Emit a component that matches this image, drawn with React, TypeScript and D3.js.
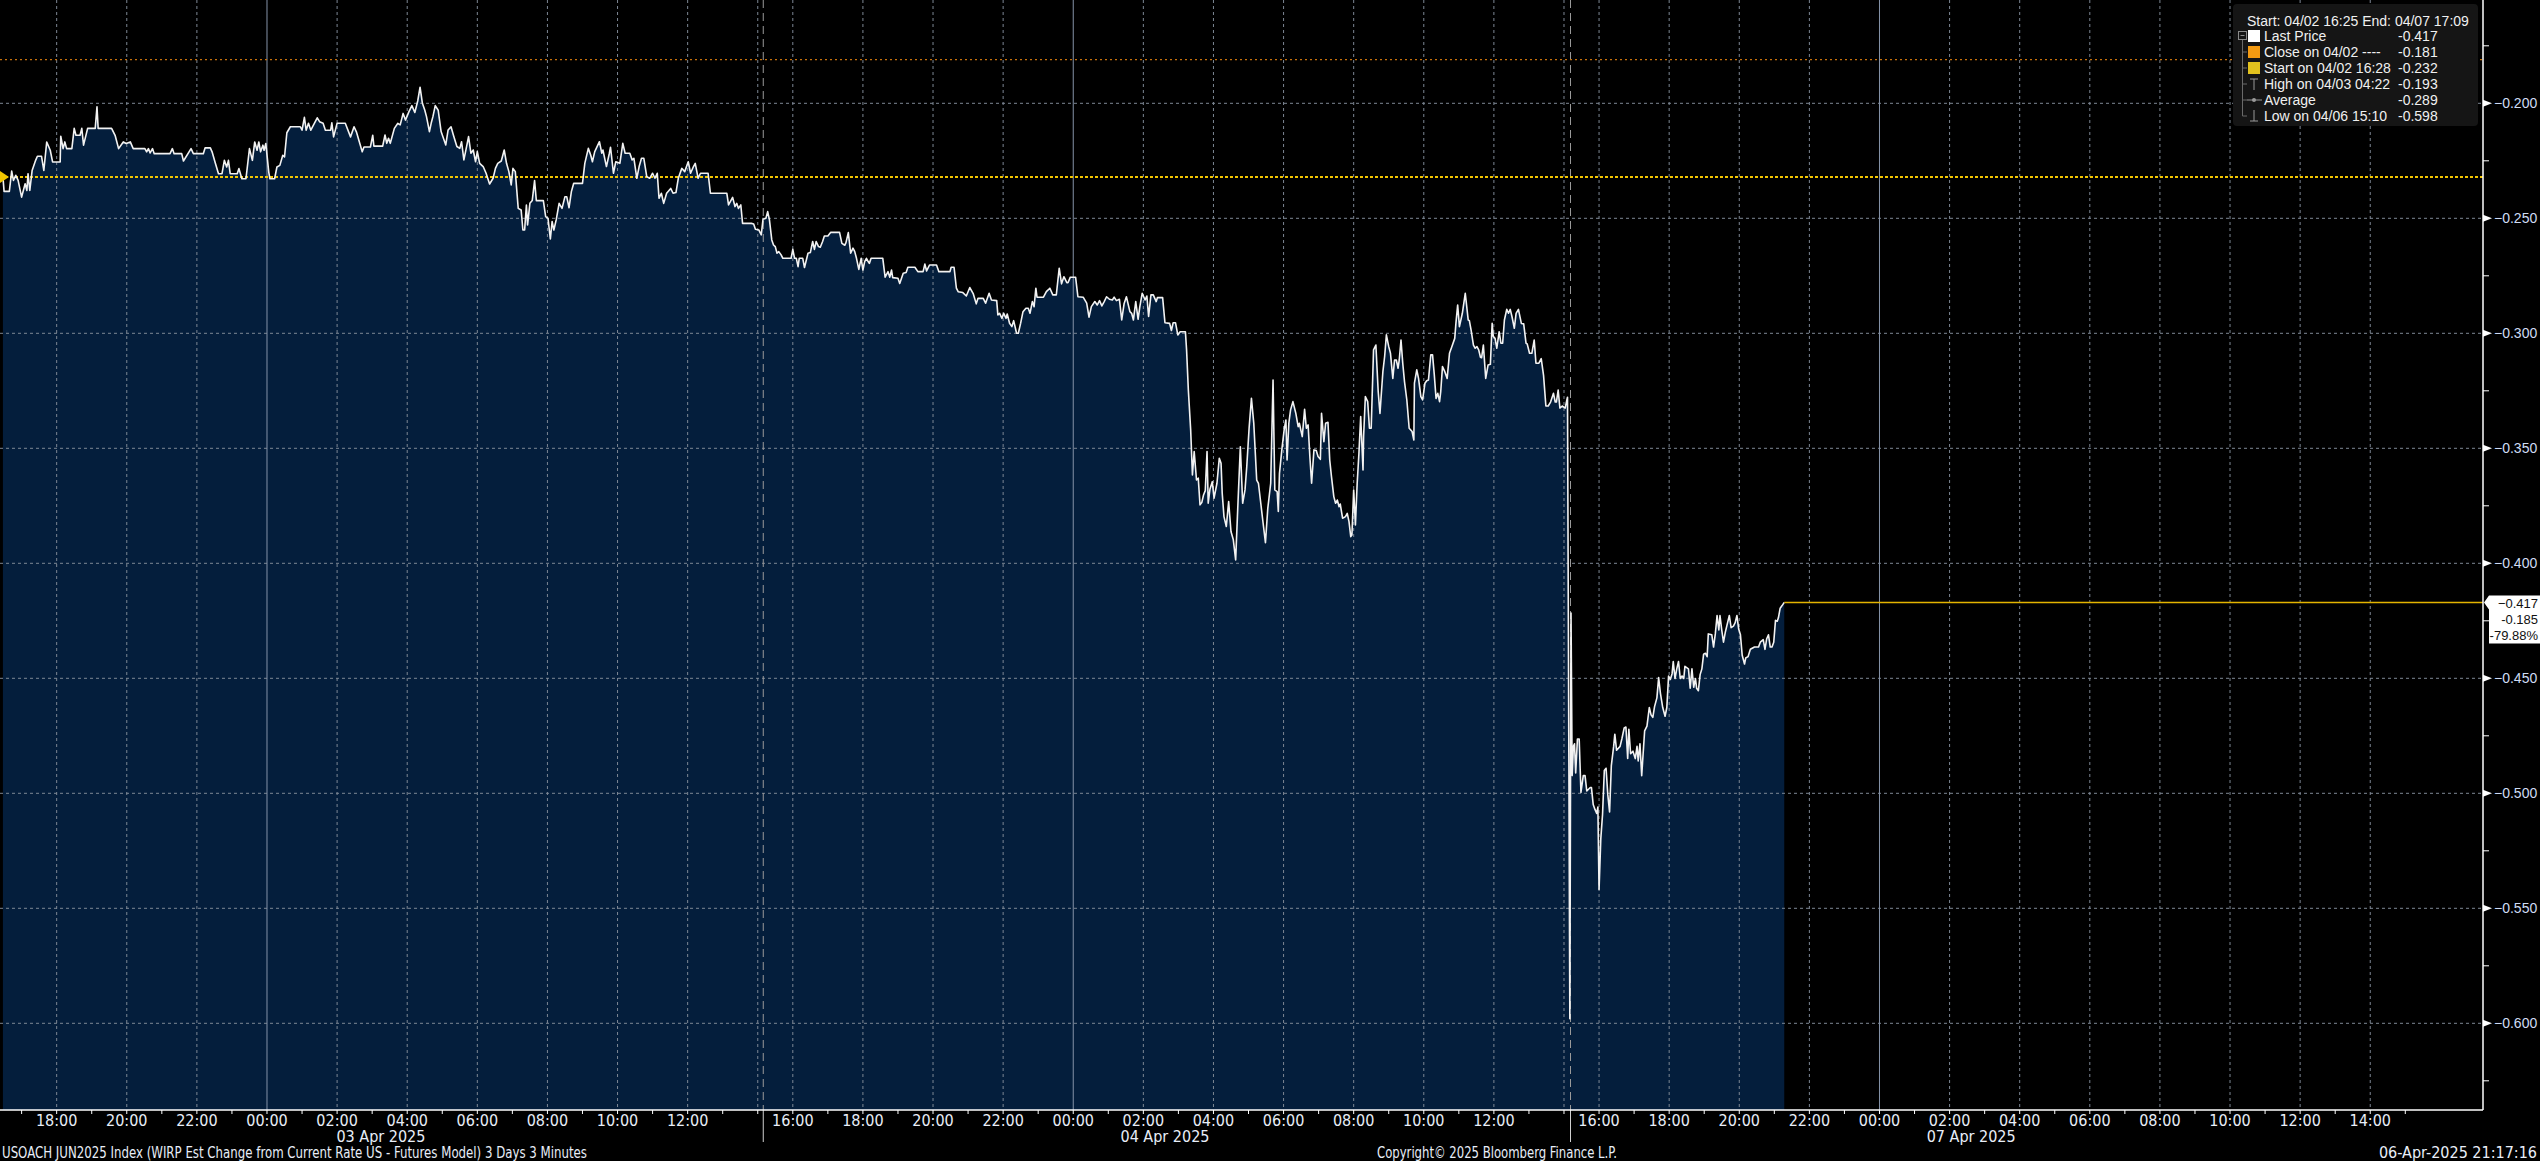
import * as d3 from 'd3';

type Pt = [string, number];

// 3-minute closes, grouped by calendar day / session
const apr02: Pt[] = [
  ['16:28', -0.232], ['16:30', -0.2383], ['16:39', -0.2383], ['16:43', -0.2295], ['16:46', -0.2335], ['16:50', -0.2313],
  ['16:54', -0.2335], ['17:00', -0.2408], ['17:06', -0.235], ['17:09', -0.2379], ['17:11', -0.2306], ['17:14', -0.2379],
  ['17:18', -0.2292], ['17:24', -0.2248], ['17:27', -0.223], ['17:34', -0.223], ['17:38', -0.2292], ['17:43', -0.2168],
  ['17:49', -0.2204], ['17:53', -0.2255], ['18:06', -0.2255], ['18:07', -0.2143], ['18:11', -0.2197], ['18:14', -0.2168],
  ['18:17', -0.2197], ['18:26', -0.2197], ['18:30', -0.2109], ['18:33', -0.2139], ['18:40', -0.2139], ['18:43', -0.2109],
  ['18:46', -0.2182], ['18:53', -0.2109], ['19:06', -0.2109], ['19:09', -0.2015], ['19:11', -0.2109], ['19:34', -0.2109],
  ['19:40', -0.2139], ['19:46', -0.2197], ['19:54', -0.2168], ['19:59', -0.2175], ['20:06', -0.2168], ['20:11', -0.2197],
  ['20:31', -0.2197], ['20:34', -0.2211], ['20:37', -0.2197], ['20:40', -0.2216], ['20:44', -0.2197], ['20:47', -0.2219],
  ['21:14', -0.2219], ['21:18', -0.2197], ['21:21', -0.2219], ['21:34', -0.2219], ['21:37', -0.2251], ['21:50', -0.2197],
  ['21:54', -0.2219], ['22:11', -0.2219], ['22:14', -0.2194], ['22:23', -0.2194], ['22:26', -0.2211], ['22:31', -0.2255],
  ['22:37', -0.2306], ['22:43', -0.2306], ['22:47', -0.2248], ['22:51', -0.2277], ['22:54', -0.2248], ['22:57', -0.2306],
  ['23:09', -0.2306], ['23:12', -0.2284], ['23:17', -0.2328], ['23:24', -0.2328], ['23:30', -0.2197], ['23:35', -0.2248],
  ['23:39', -0.2168], ['23:43', -0.2204], ['23:46', -0.2168], ['23:49', -0.2211], ['23:53', -0.2182], ['23:55', -0.2204],
  ['23:58', -0.2175],
];

const apr03am: Pt[] = [
  ['00:03', -0.2299], ['00:05', -0.2328], ['00:13', -0.2328], ['00:17', -0.2277], ['00:22', -0.227], ['00:27', -0.2226],
  ['00:30', -0.2233], ['00:34', -0.2128], ['00:40', -0.2102], ['00:57', -0.2102], ['01:00', -0.2117], ['01:04', -0.2061],
  ['01:07', -0.2117], ['01:11', -0.2087], ['01:15', -0.2117], ['01:26', -0.2063], ['01:30', -0.208], ['01:36', -0.2087],
  ['01:40', -0.2117], ['01:49', -0.2117], ['01:51', -0.2085], ['01:54', -0.2146], ['02:00', -0.2087], ['02:14', -0.2087],
  ['02:23', -0.2146], ['02:29', -0.2102], ['02:33', -0.2124], ['02:43', -0.2211], ['02:46', -0.219], ['02:57', -0.219],
  ['03:01', -0.2139], ['03:03', -0.2186], ['03:18', -0.2186], ['03:22', -0.2138], ['03:25', -0.2174], ['03:28', -0.2152],
  ['03:31', -0.2174], ['03:38', -0.2109], ['03:44', -0.2087], ['03:48', -0.2094], ['03:53', -0.2044], ['03:57', -0.2073],
  ['04:03', -0.2036], ['04:08', -0.201], ['04:13', -0.204], ['04:18', -0.199], ['04:22', -0.193], ['04:26', -0.2],
  ['04:30', -0.2029], ['04:33', -0.2058], ['04:38', -0.2123], ['04:41', -0.2087], ['04:44', -0.2058], ['04:48', -0.201],
  ['04:53', -0.203], ['04:58', -0.2123], ['05:06', -0.2181], ['05:10', -0.2116], ['05:15', -0.2102], ['05:19', -0.2138],
  ['05:25', -0.2188], ['05:30', -0.2196], ['05:33', -0.2167], ['05:37', -0.2246], ['05:41', -0.2196], ['05:45', -0.2145],
  ['05:49', -0.2217], ['05:53', -0.2203], ['05:57', -0.2254], ['06:00', -0.221], ['06:04', -0.2261], ['06:10', -0.2275],
  ['06:15', -0.2304], ['06:21', -0.2351], ['06:27', -0.2326], ['06:31', -0.2283], ['06:35', -0.2261], ['06:41', -0.2251],
  ['06:46', -0.2203], ['06:50', -0.2261], ['06:54', -0.2297], ['06:58', -0.2355], ['07:01', -0.2283], ['07:05', -0.2297],
  ['07:10', -0.2457], ['07:15', -0.2464], ['07:18', -0.2551], ['07:21', -0.2551], ['07:24', -0.2442], ['07:26', -0.2529],
  ['07:30', -0.2435], ['07:34', -0.2423], ['07:38', -0.2336], ['07:41', -0.2423], ['07:53', -0.2423], ['07:57', -0.2493],
  ['08:01', -0.25], ['08:05', -0.259], ['08:08', -0.2514], ['08:11', -0.2551], ['08:15', -0.2507], ['08:20', -0.2435],
  ['08:25', -0.2457], ['08:30', -0.2406], ['08:33', -0.2406], ['08:37', -0.2454], ['08:41', -0.2384], ['08:45', -0.2348],
  ['09:00', -0.2348], ['09:04', -0.2261], ['09:10', -0.2196], ['09:14', -0.2225], ['09:17', -0.2254], ['09:21', -0.221],
  ['09:29', -0.2167], ['09:33', -0.2217], ['09:35', -0.2203], ['09:41', -0.2275], ['09:46', -0.2217], ['09:48', -0.2191],
  ['09:53', -0.2304], ['09:57', -0.2254], ['10:04', -0.2261], ['10:09', -0.2174], ['10:13', -0.2217], ['10:21', -0.2217],
  ['10:25', -0.2246], ['10:28', -0.2239], ['10:33', -0.2326], ['10:37', -0.2275], ['10:41', -0.2239], ['10:45', -0.2239],
  ['10:50', -0.2319], ['10:55', -0.2326], ['11:00', -0.2304], ['11:04', -0.2326], ['11:08', -0.2304], ['11:11', -0.2413],
  ['11:15', -0.2391], ['11:19', -0.2435], ['11:24', -0.2391], ['11:31', -0.237], ['11:35', -0.2391], ['11:40', -0.2388],
  ['11:44', -0.2326], ['11:50', -0.2283], ['11:55', -0.2297], ['12:01', -0.2254], ['12:05', -0.2304], ['12:10', -0.2275],
  ['12:13', -0.2261], ['12:18', -0.2326], ['12:22', -0.2304], ['12:35', -0.2304], ['12:39', -0.2391], ['13:07', -0.2391],
  ['13:10', -0.2442], ['13:17', -0.2409], ['13:21', -0.2449], ['13:24', -0.2435], ['13:27', -0.2457], ['13:31', -0.2442],
  ['13:34', -0.2522], ['13:49', -0.2522], ['13:53', -0.2525], ['13:56', -0.2548], ['14:02', -0.2551], ['14:06', -0.2572],
];

const apr03pm: Pt[] = [
  ['15:09', -0.2504], ['15:14', -0.25], ['15:17', -0.2471], ['15:20', -0.2507], ['15:24', -0.2594], ['15:27', -0.2616],
  ['15:30', -0.2623], ['15:33', -0.2652], ['15:36', -0.2645], ['15:40', -0.2659], ['15:43', -0.2674], ['15:57', -0.2674],
  ['16:00', -0.2635], ['16:03', -0.2674], ['16:06', -0.2674], ['16:09', -0.271], ['16:11', -0.2674], ['16:17', -0.2674],
  ['16:20', -0.2714], ['16:26', -0.2652], ['16:30', -0.2649], ['16:34', -0.2601], ['16:37', -0.2635], ['16:40', -0.2601],
  ['16:44', -0.2623], ['16:47', -0.2626], ['16:51', -0.2601], ['16:54', -0.2577], ['17:00', -0.2577], ['17:05', -0.2561],
  ['17:20', -0.2561], ['17:24', -0.2609], ['17:29', -0.2617], ['17:31', -0.2606], ['17:35', -0.2562], ['17:39', -0.2652],
  ['17:43', -0.263], ['17:46', -0.2645], ['17:49', -0.2674], ['17:53', -0.2722], ['17:57', -0.2674], ['18:00', -0.2725],
  ['18:03', -0.2688], ['18:06', -0.2674], ['18:09', -0.2688], ['18:11', -0.2696], ['18:14', -0.2674], ['18:34', -0.2674],
  ['18:38', -0.2756], ['18:43', -0.2732], ['18:46', -0.2756], ['18:49', -0.2725], ['18:51', -0.2758], ['19:00', -0.2761],
  ['19:03', -0.2783], ['19:09', -0.2739], ['19:14', -0.2736], ['19:17', -0.2713], ['19:29', -0.2713], ['19:34', -0.2732],
  ['19:43', -0.2732], ['19:46', -0.2699], ['19:49', -0.2729], ['19:54', -0.2703], ['20:06', -0.2703], ['20:10', -0.2732],
  ['20:29', -0.2732], ['20:31', -0.2713], ['20:36', -0.2713], ['20:40', -0.2804], ['20:43', -0.2819], ['20:51', -0.2823],
  ['20:57', -0.2838], ['21:03', -0.2801], ['21:09', -0.2829], ['21:14', -0.2872], ['21:17', -0.2848], ['21:26', -0.2848],
  ['21:30', -0.2869], ['21:36', -0.2826], ['21:40', -0.2855], ['21:49', -0.2858], ['21:51', -0.292], ['21:54', -0.2913],
  ['21:58', -0.2935], ['22:01', -0.2913], ['22:05', -0.2935], ['22:07', -0.2916], ['22:11', -0.2956], ['22:15', -0.2971],
  ['22:18', -0.2945], ['22:23', -0.3], ['22:26', -0.3], ['22:30', -0.2956], ['22:34', -0.2906], ['22:39', -0.2891],
  ['22:43', -0.2891], ['22:46', -0.2913], ['22:50', -0.2862], ['22:53', -0.2884], ['22:56', -0.2804], ['22:58', -0.2843],
  ['23:09', -0.2843], ['23:14', -0.2819], ['23:20', -0.2804], ['23:25', -0.2833], ['23:31', -0.2833], ['23:36', -0.2717],
  ['23:40', -0.2785], ['23:44', -0.2754], ['23:49', -0.278], ['23:51', -0.278], ['23:55', -0.2756],
];

const apr04: Pt[] = [
  ['00:04', -0.2756], ['00:08', -0.2841], ['00:17', -0.2843], ['00:23', -0.2869], ['00:27', -0.293], ['00:31', -0.2884],
  ['00:37', -0.2862], ['00:41', -0.2877], ['00:45', -0.2858], ['00:49', -0.2881], ['00:53', -0.2862], ['00:57', -0.2841],
  ['01:02', -0.2852], ['01:07', -0.2855], ['01:10', -0.2843], ['01:14', -0.2858], ['01:19', -0.2852], ['01:23', -0.2942],
  ['01:27', -0.2872], ['01:31', -0.2841], ['01:37', -0.2906], ['01:40', -0.2913], ['01:43', -0.2942], ['01:47', -0.2862],
  ['01:51', -0.2939], ['01:54', -0.2884], ['01:58', -0.2826], ['02:03', -0.2855], ['02:06', -0.2838], ['02:09', -0.2927],
  ['02:13', -0.2833], ['02:17', -0.2833], ['02:22', -0.2862], ['02:24', -0.2845], ['02:33', -0.2845], ['02:37', -0.2954],
  ['02:45', -0.2957], ['02:48', -0.2988], ['02:51', -0.2954], ['02:55', -0.2954], ['02:59', -0.3007], ['03:03', -0.2993],
  ['03:12', -0.2993], ['03:14', -0.3072], ['03:17', -0.3246], ['03:21', -0.342], ['03:24', -0.3616], ['03:27', -0.3514],
  ['03:31', -0.3638], ['03:34', -0.363], ['03:37', -0.3746], ['03:40', -0.3736], ['03:43', -0.3703], ['03:46', -0.3684],
  ['03:49', -0.3514], ['03:51', -0.3739], ['03:54', -0.3678], ['03:58', -0.3645], ['04:01', -0.3717], ['04:06', -0.3652],
  ['04:10', -0.3543], ['04:13', -0.3565], ['04:15', -0.3696], ['04:18', -0.3797], ['04:22', -0.384], ['04:26', -0.3732],
  ['04:30', -0.3862], ['04:34', -0.3898], ['04:38', -0.3985], ['04:41', -0.3797], ['04:46', -0.3493], ['04:50', -0.3739],
  ['04:54', -0.3681], ['04:57', -0.358], ['05:01', -0.3413], ['05:05', -0.3283], ['05:09', -0.3391], ['05:14', -0.3638],
  ['05:17', -0.3652], ['05:21', -0.3739], ['05:25', -0.3826], ['05:29', -0.391], ['05:33', -0.3761], ['05:38', -0.3652],
  ['05:42', -0.3203], ['05:45', -0.3681], ['05:49', -0.3688], ['05:51', -0.3775], ['05:53', -0.3609], ['05:57', -0.3507],
  ['06:01', -0.342], ['06:04', -0.3377], ['06:06', -0.3551], ['06:09', -0.3391], ['06:12', -0.3333], ['06:16', -0.3297],
  ['06:21', -0.3348], ['06:25', -0.3406], ['06:27', -0.3391], ['06:32', -0.3449], ['06:36', -0.333], ['06:39', -0.3413],
  ['06:42', -0.3398], ['06:45', -0.3536], ['06:48', -0.3652], ['06:52', -0.3507], ['06:56', -0.351], ['06:59', -0.3536],
  ['07:03', -0.3548], ['07:05', -0.3348], ['07:09', -0.3471], ['07:12', -0.3391], ['07:16', -0.3387], ['07:19', -0.3551],
  ['07:22', -0.3623], ['07:26', -0.371], ['07:29', -0.3739], ['07:32', -0.3725], ['07:35', -0.3754], ['07:37', -0.3742],
  ['07:41', -0.3804], ['07:46', -0.3797], ['07:49', -0.3783], ['07:52', -0.3819], ['07:55', -0.3884], ['07:57', -0.3877],
  ['08:00', -0.3681], ['08:03', -0.3833], ['08:06', -0.3652], ['08:09', -0.3522], ['08:12', -0.3362], ['08:16', -0.3594],
  ['08:17', -0.3449], ['08:20', -0.3275], ['08:24', -0.3297], ['08:27', -0.3413], ['08:30', -0.3413], ['08:34', -0.3072],
  ['08:38', -0.3051], ['08:42', -0.3254], ['08:45', -0.3348], ['08:48', -0.3239], ['08:50', -0.3167], ['08:53', -0.3101],
  ['08:56', -0.3007], ['09:00', -0.3058], ['09:03', -0.3087], ['09:07', -0.3196], ['09:10', -0.3116], ['09:13', -0.3116],
  ['09:16', -0.3152], ['09:18', -0.3116], ['09:21', -0.3029], ['09:24', -0.313], ['09:27', -0.321], ['09:31', -0.329],
  ['09:35', -0.3413], ['09:40', -0.3427], ['09:43', -0.3464], ['09:44', -0.3217], ['09:48', -0.3159], ['09:51', -0.3196],
  ['09:55', -0.3275], ['09:58', -0.329], ['10:02', -0.3217], ['10:05', -0.3206], ['10:08', -0.3203], ['10:12', -0.3094],
  ['10:15', -0.3094], ['10:18', -0.3181], ['10:21', -0.3283], ['10:24', -0.3261], ['10:27', -0.3297], ['10:29', -0.3254],
  ['10:32', -0.3145], ['10:36', -0.3167], ['10:40', -0.3196], ['10:44', -0.3087], ['10:48', -0.3058], ['10:53', -0.3022],
  ['10:55', -0.2957], ['10:58', -0.2877], ['11:01', -0.2971], ['11:06', -0.2913], ['11:11', -0.2826], ['11:16', -0.2942],
  ['11:18', -0.2945], ['11:21', -0.2986], ['11:25', -0.3051], ['11:28', -0.3065], ['11:31', -0.3058], ['11:34', -0.3072],
  ['11:37', -0.3104], ['11:39', -0.3106], ['11:42', -0.3051], ['11:46', -0.3196], ['11:50', -0.3138], ['11:54', -0.3135],
  ['11:57', -0.2957], ['11:59', -0.3014], ['12:02', -0.3022], ['12:05', -0.3065], ['12:09', -0.2993], ['12:12', -0.3043],
  ['12:15', -0.3043], ['12:18', -0.2942], ['12:22', -0.2896], ['12:25', -0.2913], ['12:28', -0.2896], ['12:31', -0.2928],
  ['12:35', -0.2978], ['12:38', -0.2913], ['12:42', -0.2896], ['12:47', -0.2957], ['12:51', -0.2959], ['12:55', -0.3043],
  ['12:57', -0.3046], ['13:01', -0.3087], ['13:05', -0.3087], ['13:09', -0.3029], ['13:12', -0.313], ['13:17', -0.313],
  ['13:21', -0.311], ['13:25', -0.3183], ['13:29', -0.3316], ['13:33', -0.3316], ['13:37', -0.3299], ['13:42', -0.3261],
  ['13:45', -0.3299], ['13:47', -0.3299], ['13:50', -0.3247], ['13:53', -0.3325], ['13:57', -0.3316], ['14:02', -0.3325],
  ['14:05', -0.3289], ['14:06', -0.3278],
];

const apr06: Pt[] = [
  ['15:10', -0.598], ['15:12', -0.4216], ['15:14', -0.4923], ['15:16', -0.4796], ['15:18', -0.4785], ['15:20', -0.4912],
  ['15:23', -0.4764], ['15:26', -0.4764], ['15:29', -0.4996], ['15:33', -0.4923], ['15:36', -0.4923], ['15:39', -0.499],
  ['15:45', -0.4975], ['15:47', -0.4975], ['15:50', -0.5049], ['15:53', -0.507], ['15:56', -0.5087], ['15:58', -0.506],
  ['16:00', -0.5418], ['16:03', -0.5197], ['16:06', -0.5091], ['16:09', -0.4901], ['16:12', -0.4891], ['16:15', -0.5007],
  ['16:18', -0.5081], ['16:21', -0.488], ['16:25', -0.4796], ['16:27', -0.4743], ['16:30', -0.4813], ['16:36', -0.4796],
  ['16:39', -0.4764], ['16:43', -0.4716], ['16:46', -0.4712], ['16:49', -0.4849], ['16:51', -0.4722], ['16:54', -0.4828],
  ['16:58', -0.4817], ['17:02', -0.4849], ['17:05', -0.4796], ['17:07', -0.4859], ['17:10', -0.4785], ['17:13', -0.4923],
  ['17:18', -0.4729], ['17:22', -0.4708], ['17:26', -0.4627], ['17:29', -0.4659], ['17:32', -0.467], ['17:35', -0.4623],
  ['17:39', -0.4585], ['17:42', -0.4497], ['17:45', -0.4564], ['17:49', -0.4627], ['17:53', -0.4665], ['17:56', -0.4627],
  ['17:59', -0.449], ['18:02', -0.4505], ['18:05', -0.448], ['18:07', -0.4427], ['18:10', -0.4501], ['18:13', -0.4459],
  ['18:16', -0.4427], ['18:19', -0.4501], ['18:22', -0.449], ['18:25', -0.4501], ['18:27', -0.4448], ['18:33', -0.4459],
  ['18:36', -0.4543], ['18:39', -0.4459], ['18:42', -0.4539], ['18:45', -0.4501], ['18:47', -0.4543], ['18:50', -0.4554],
  ['18:53', -0.4484], ['18:56', -0.4459], ['18:59', -0.4395], ['19:02', -0.4391], ['19:05', -0.4406], ['19:07', -0.4307],
  ['19:13', -0.4311], ['19:16', -0.4364], ['19:19', -0.4307], ['19:22', -0.4227], ['19:25', -0.429], ['19:27', -0.4227],
  ['19:30', -0.429], ['19:33', -0.4343], ['19:36', -0.4301], ['19:39', -0.4269], ['19:43', -0.4227], ['19:46', -0.428],
  ['19:50', -0.4273], ['19:53', -0.4258], ['19:56', -0.4227], ['19:59', -0.4286], ['20:02', -0.4311], ['20:05', -0.44],
  ['20:09', -0.4438], ['20:11', -0.4412], ['20:15', -0.4406], ['20:19', -0.4374], ['20:26', -0.4364], ['20:33', -0.4364],
  ['20:36', -0.4343], ['20:41', -0.4332], ['20:44', -0.4374], ['20:47', -0.4328], ['20:50', -0.4311], ['20:53', -0.4364],
  ['20:56', -0.4364], ['20:59', -0.4343], ['21:02', -0.4248], ['21:05', -0.4252], ['21:07', -0.4237], ['21:10', -0.4195],
  ['21:13', -0.4185], ['21:17', -0.417],
];

// trading sessions; the closed hours between them are squeezed out of the axis
const sessions = [
  { from: '04/02 16:23', to: '04/03 14:06' },
  { from: '04/03 15:06', to: '04/04 14:06' },
  { from: '04/06 15:06', to: '04/07 17:13' },
];

const yTicks = [-0.2, -0.25, -0.3, -0.35, -0.4, -0.45, -0.5, -0.55, -0.6];
const yMinorTicks = [-0.175, -0.225, -0.275, -0.325, -0.375, -0.425, -0.475, -0.525, -0.575, -0.625];
const dateLabels: [string, string][] = [
  ['04/03 03:15', '03 Apr 2025'],
  ['04/04 02:37', '04 Apr 2025'],
  ['04/07 02:37', '07 Apr 2025'],
];

const closeOnApr02 = -0.181;
const startValue = -0.232;
const lastPrice = -0.417;
const lastChange = '-0.185';
const lastChangePct = '-79.88%';

const legendHeader = 'Start: 04/02 16:25 End: 04/07 17:09';
const legendRows = [
  { label: 'Last Price', value: '-0.417', mark: 'box', color: '#ffffff' },
  { label: 'Close on 04/02 ----', value: '-0.181', mark: 'box', color: '#f39a12' },
  { label: 'Start on 04/02 16:28', value: '-0.232', mark: 'box', color: '#e2c21e' },
  { label: 'High on 04/03 04:22', value: '-0.193', mark: 'high', color: '#9a9a9a' },
  { label: 'Average', value: '-0.289', mark: 'avg', color: '#9a9a9a' },
  { label: 'Low on 04/06 15:10', value: '-0.598', mark: 'low', color: '#9a9a9a' },
];

const footTitle = 'USOACH JUN2025 Index (WIRP Est Change from Current Rate US - Futures Model) 3 Days 3 Minutes';
const footCopy = 'Copyright\u00a9 2025 Bloomberg Finance L.P.';
const footStamp = '06-Apr-2025 21:17:16';

const W = 2540;
const H = 1161;
const plotRight = 2483;
const plotBottom = 1110;

const sans = "'Liberation Sans', Arial, Helvetica, sans-serif";
const narrow = "'Liberation Sans Narrow', 'Arial Narrow', 'DejaVu Sans Condensed', sans-serif";

function when(s: string) {
  const [md, hm] = s.split(' ');
  const [mo, d] = md.split('/').map(Number);
  const [h, m] = hm.split(':').map(Number);
  return new Date(2025, mo - 1, d, h, m);
}

const withDay = (day: string, pts: Pt[]) => pts.map(([t, v]) => ({ t: when(`${day} ${t}`), v }));

const series = [
  ...withDay('04/02', apr02),
  ...withDay('04/03', apr03am),
  ...withDay('04/03', apr03pm),
  ...withDay('04/04', apr04),
  ...withDay('04/06', apr06),
];

const bounds = sessions.map(s => [when(s.from), when(s.to)] as [Date, Date]);
const hours = bounds.map(([a, b]) => (+b - +a) / 3.6e6);
const pxPerHour = plotRight / d3.sum(hours);
const xRange: number[] = [];
let acc = 0;
hours.forEach(h => {
  xRange.push(acc);
  acc += h * pxPerHour;
  xRange.push(acc);
});

const x = d3.scaleTime().domain(bounds.flat()).range(xRange);
const y = d3.scaleLinear().domain([-0.2, -0.6]).range([103.3, 1023.3]);

const hourTicks = bounds.flatMap(([a, b]) =>
  d3.timeHour.range(d3.timeHour.ceil(a), b).map(t => ({ t, endX: x(b) }))
).filter(d => x(d.t) < plotRight - 70);
const evenTicks = hourTicks.filter(d => d.t.getHours() % 2 === 0);
const breakXs = [xRange[1] + 2, xRange[3] + 3];

const area = d3.area<{ t: Date; v: number }>().x(d => x(d.t)).y0(plotBottom).y1(d => y(d.v));
const line = d3.line<{ t: Date; v: number }>().x(d => x(d.t)).y(d => y(d.v));
const last = series[series.length - 1];
const fmt = d3.format('.3f');
const hm = d3.timeFormat('%H:%M');

export default function App() {
  const yl = y(lastPrice);
  return (
    <div>
      <style>{'body{margin:0;background:#000}'}</style>
      <svg width={W} height={H} style={{ display: 'block', background: '#000' }}>
        <rect x={0} y={0} width={W} height={H} fill="#000" />
        <path d={area(series) ?? ''} fill="#041e3c" />

        {yTicks.map(v => (
          <line key={v} x1={0} x2={plotRight} y1={y(v)} y2={y(v)} stroke="#7d8794" strokeDasharray="3,3" />
        ))}
        {evenTicks.map(d => (
          <line
            key={+d.t}
            x1={x(d.t)} x2={x(d.t)} y1={0} y2={plotBottom}
            stroke={d.t.getHours() === 0 ? '#8593a8' : '#7d8794'}
            strokeDasharray={d.t.getHours() === 0 ? undefined : '3,3'}
          />
        ))}
        {breakXs.map(bx => (
          <g key={bx}>
            <line x1={bx} x2={bx} y1={0} y2={plotBottom} stroke="#9a9a9a" strokeDasharray="8,5" />
            <line x1={bx} x2={bx} y1={plotBottom} y2={1142} stroke="#d0d0d0" />
          </g>
        ))}

        <line x1={0} x2={plotRight} y1={y(closeOnApr02)} y2={y(closeOnApr02)} stroke="#c8720c" strokeWidth={1.3} strokeDasharray="2,3" />
        <line x1={0} x2={plotRight} y1={y(startValue)} y2={y(startValue)} stroke="#f2c600" strokeWidth={2} strokeDasharray="3,2" />

        <path d={line(series) ?? ''} fill="none" stroke="#f2f2f2" strokeWidth={1.6} strokeLinejoin="round" />
        <line x1={x(last.t)} x2={plotRight} y1={y(last.v)} y2={y(last.v)} stroke="#e3b400" strokeWidth={1.5} />
        <polygon points={`0,${y(startValue) - 6} 9,${y(startValue)} 0,${y(startValue) + 6}`} fill="#f2c600" />

        {/* axes */}
        <line x1={plotRight} x2={plotRight} y1={0} y2={plotBottom} stroke="#fff" strokeWidth={1.5} />
        <line x1={0} x2={plotRight} y1={plotBottom} y2={plotBottom} stroke="#fff" strokeWidth={1.5} />
        {yMinorTicks.map(v => (
          <line key={v} x1={plotRight} x2={plotRight + 6} y1={y(v)} y2={y(v)} stroke="#fff" />
        ))}
        {yTicks.map(v => (
          <g key={v}>
            <polygon points={`${plotRight},${y(v) - 3.5} ${plotRight + 9},${y(v)} ${plotRight},${y(v) + 3.5}`} fill="#fff" />
            <text x={plotRight + 11} y={y(v)} dominantBaseline="central" fontFamily={sans} fontSize={14} fill="#cfdcf4">
              {fmt(v)}
            </text>
          </g>
        ))}
        {hourTicks.map(d => (
          <line key={+d.t} x1={x(d.t)} x2={x(d.t)} y1={plotBottom} y2={plotBottom + 4} stroke="#fff" />
        ))}
        {evenTicks
          .filter(d => x(d.t) < d.endX - 30)
          .map(d => (
            <text key={+d.t} x={x(d.t)} y={1120} textAnchor="middle" dominantBaseline="central" fontFamily={narrow} fontSize={16} fill="#e8eef8">
              {hm(d.t)}
            </text>
          ))}
        {dateLabels.map(([t, label]) => (
          <text key={label} x={x(when(t))} y={1136} textAnchor="middle" dominantBaseline="central" fontFamily={narrow} fontSize={16} fill="#e8eef8">
            {label}
          </text>
        ))}

        {/* last price tag */}
        <polygon points={`2484,${yl} 2489,${yl - 7} 2540,${yl - 7} 2540,${yl + 41} 2489,${yl + 41} 2489,${yl + 7}`} fill="#fff" />
        {[fmt(lastPrice), lastChange, lastChangePct].map((s, i) => (
          <text key={s} x={2538} y={yl + 1 + i * 16} textAnchor="end" dominantBaseline="central" fontFamily={sans} fontSize={13} fill="#111">
            {s}
          </text>
        ))}

        {/* legend */}
        <g fontFamily={sans} fontSize={14}>
          <rect x={2233} y={4} width={245} height={122} rx={4} fill="#151515" />
          <text x={2247} y={21} dominantBaseline="central" fill="#f0f0f0">{legendHeader}</text>
          <rect x={2238.5} y={31.5} width={8} height={8} fill="none" stroke="#8a8a8a" />
          <line x1={2240.5} x2={2244.5} y1={35.5} y2={35.5} stroke="#8a8a8a" />
          <line x1={2242.5} x2={2242.5} y1={40} y2={116} stroke="#6a6a6a" />
          {legendRows.map((r, i) => {
            const ry = 36 + i * 16;
            return (
              <g key={r.label}>
                {i > 0 && <line x1={2242.5} x2={2247} y1={ry} y2={ry} stroke="#6a6a6a" />}
                {r.mark === 'box' && <rect x={2248} y={ry - 6} width={12} height={12} fill={r.color} />}
                {r.mark === 'high' && (
                  <path d={`M2250,${ry - 5}H2258M2254,${ry - 5}V${ry + 6}`} stroke={r.color} fill="none" />
                )}
                {r.mark === 'avg' && (
                  <g>
                    <line x1={2247} x2={2262} y1={ry} y2={ry} stroke={r.color} />
                    <circle cx={2254} cy={ry} r={2} fill={r.color} />
                  </g>
                )}
                {r.mark === 'low' && (
                  <path d={`M2254,${ry - 6}V${ry + 5}M2250,${ry + 5}H2258`} stroke={r.color} fill="none" />
                )}
                <text x={2264} y={ry} dominantBaseline="central" fill="#f0f0f0">{r.label}</text>
                <text x={2398} y={ry} dominantBaseline="central" fill="#f0f0f0">{r.value}</text>
              </g>
            );
          })}
        </g>

        {/* footer */}
        <g fontFamily={narrow} fontSize={16} fill="#e8eef8">
          <text x={2} y={1152} dominantBaseline="central" textLength={585} lengthAdjust="spacingAndGlyphs">{footTitle}</text>
          <text x={1377} y={1152} dominantBaseline="central" textLength={240} lengthAdjust="spacingAndGlyphs">{footCopy}</text>
          <text x={2537} y={1152} textAnchor="end" dominantBaseline="central">{footStamp}</text>
        </g>
      </svg>
    </div>
  );
}
